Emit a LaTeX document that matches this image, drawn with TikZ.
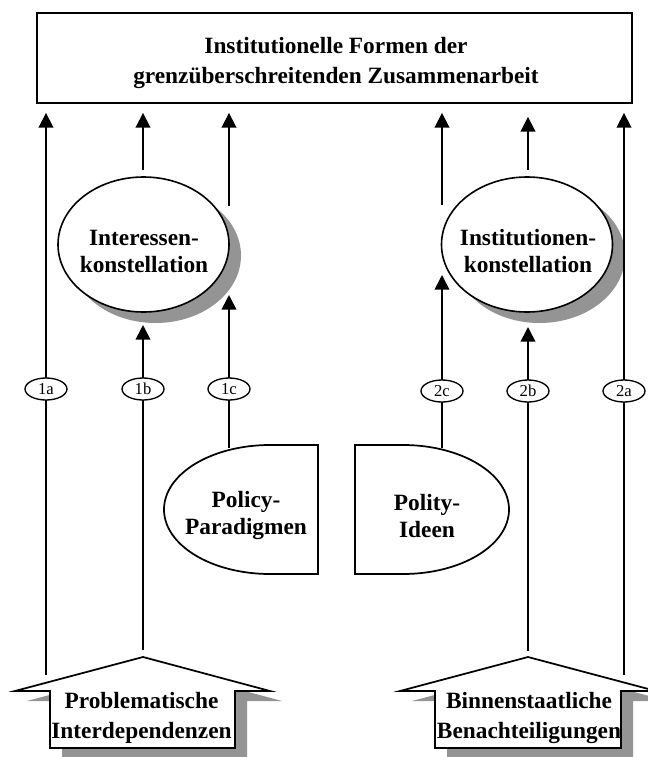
\documentclass[tikz,border=0pt]{standalone}
\usepackage{fontspec}
\setmainfont{Liberation Serif}
\usetikzlibrary{arrows.meta,shapes.geometric,calc}

\begin{document}
\begin{tikzpicture}[x=0.75pt,y=-0.75pt,
  conn/.style={line width=1.3pt,-{Triangle[length=11pt,width=11pt]}},
  bold/.style={font=\fontsize{17.5}{20.25}\selectfont\bfseries, align=center, inner sep=0pt},
  boldwide/.style={font=\fontsize{17.5}{22.5}\selectfont\bfseries, align=center, inner sep=0pt},
  ell/.style={ellipse, draw, line width=1.2pt, fill=white, minimum width=128.25pt, minimum height=101.25pt, inner sep=0pt},
  ellshadow/.style={ellipse, draw=none, fill=black!42, minimum width=128.25pt, minimum height=101.25pt, inner sep=0pt},
  lab/.style={ellipse, draw, line width=1pt, fill=white, minimum width=31.5pt, minimum height=16.5pt, inner sep=0pt, font=\fontsize{12.5}{13}\selectfont},
  shad/.style={fill=black!42, draw=none},
  outline/.style={draw, line width=1.3pt, fill=white, line join=miter},
]
\useasboundingbox (0,0) rectangle (648,757);
\fill[white] (0,0) rectangle (648,757);

% top box
\node[draw, line width=1.4pt, minimum width=446.25pt, minimum height=67.5pt, inner sep=0pt] (top) at (334.5,58) {};
\node[boldwide] (toptext) at (336,63) {Institutionelle Formen der\\grenzüberschreitenden Zusammenarbeit};

% ellipses with shadows
\node[ellshadow] (intershadow) at (155.5,255.5) {};
\node[ell] (inter) at (143.5,244.5) {};
\node[bold] (intertext) at (144,251) {Interessen-\\konstellation};
\node[ellshadow] (instshadow) at (539.5,255.5) {};
\node[ell] (inst) at (527,244.5) {};
\node[bold] (insttext) at (528,251) {Institutionen-\\konstellation};

% half-ellipse shapes
\draw[outline] (318,445) -- (270,445) arc[start angle=90, end angle=270, x radius=79.5pt, y radius=48.375pt] -- (318,574) -- cycle;
\node[bold] (policy) at (246,515) {Policy-\\Paradigmen};
\draw[outline] (355,445) -- (403,445) arc[start angle=90, end angle=-90, x radius=79.5pt, y radius=48.375pt] -- (355,574) -- cycle;
\node[bold] (polity) at (427,516) {Polity-\\Ideen};

% bottom arrow shapes
\fill[shad, shift={(12,10)}] (15,691) -- (143,657) -- (270,691) -- (235,691) -- (235,748) -- (50,748) -- (50,691) -- cycle;
\draw[outline] (15,691) -- (143,657) -- (270,691) -- (235,691) -- (235,748) -- (50,748) -- (50,691) -- cycle;
\node[boldwide] (prob) at (141.5,717.5) {Problematische\\Interdependenzen};
\fill[shad, shift={(12,10)}] (400,691) -- (528,657) -- (656,691) -- (621,691) -- (621,748) -- (435,748) -- (435,691) -- cycle;
\draw[outline] (400,691) -- (528,657) -- (656,691) -- (621,691) -- (621,748) -- (435,748) -- (435,691) -- cycle;
\node[boldwide] (binnen) at (529,718) {Binnenstaatliche\\Benachteiligungen};

% connector end points
\coordinate (s1a) at (46,675);
\coordinate (s1b) at (143,650);
\coordinate (e1b) at (143,325);
\coordinate (s1c) at (229,448);
\coordinate (e1c) at (229,295);
\coordinate (u1b) at (143,170);
\coordinate (u1c) at (229,206);
\coordinate (s2a) at (624,675);
\coordinate (s2b) at (528,651);
\coordinate (e2b) at (528,327);
\coordinate (s2c) at (442,448);
\coordinate (e2c) at (442,275);
\coordinate (u2b) at (528,170);
\coordinate (u2c) at (442,205);

% connectors to top box
\draw[conn, shorten >=6.75pt] (s1a) -- (s1a |- top.south);
\draw[conn, shorten >=6.75pt] (u1b) -- (u1b |- top.south);
\draw[conn, shorten >=6.75pt] (u1c) -- (u1c |- top.south);
\draw[conn, shorten >=6.75pt] (s2a) -- (s2a |- top.south);
\draw[conn, shorten >=9.75pt] (u2b) -- (u2b |- top.south);
\draw[conn, shorten >=6.75pt] (u2c) -- (u2c |- top.south);

% connectors to ellipses
\draw[conn] (s1b) -- (e1b);
\draw[conn] (s1c) -- (e1c);
\draw[conn] (s2b) -- (e2b);
\draw[conn] (s2c) -- (e2c);

% labels
\node[lab] (l1a) at (46,389) {1a};
\node[lab] (l1b) at (143,389) {1b};
\node[lab] (l1c) at (229,389) {1c};
\node[lab] (l2c) at (442,391) {2c};
\node[lab] (l2b) at (528,391) {2b};
\node[lab] (l2a) at (624,391) {2a};
\end{tikzpicture}
\end{document}
